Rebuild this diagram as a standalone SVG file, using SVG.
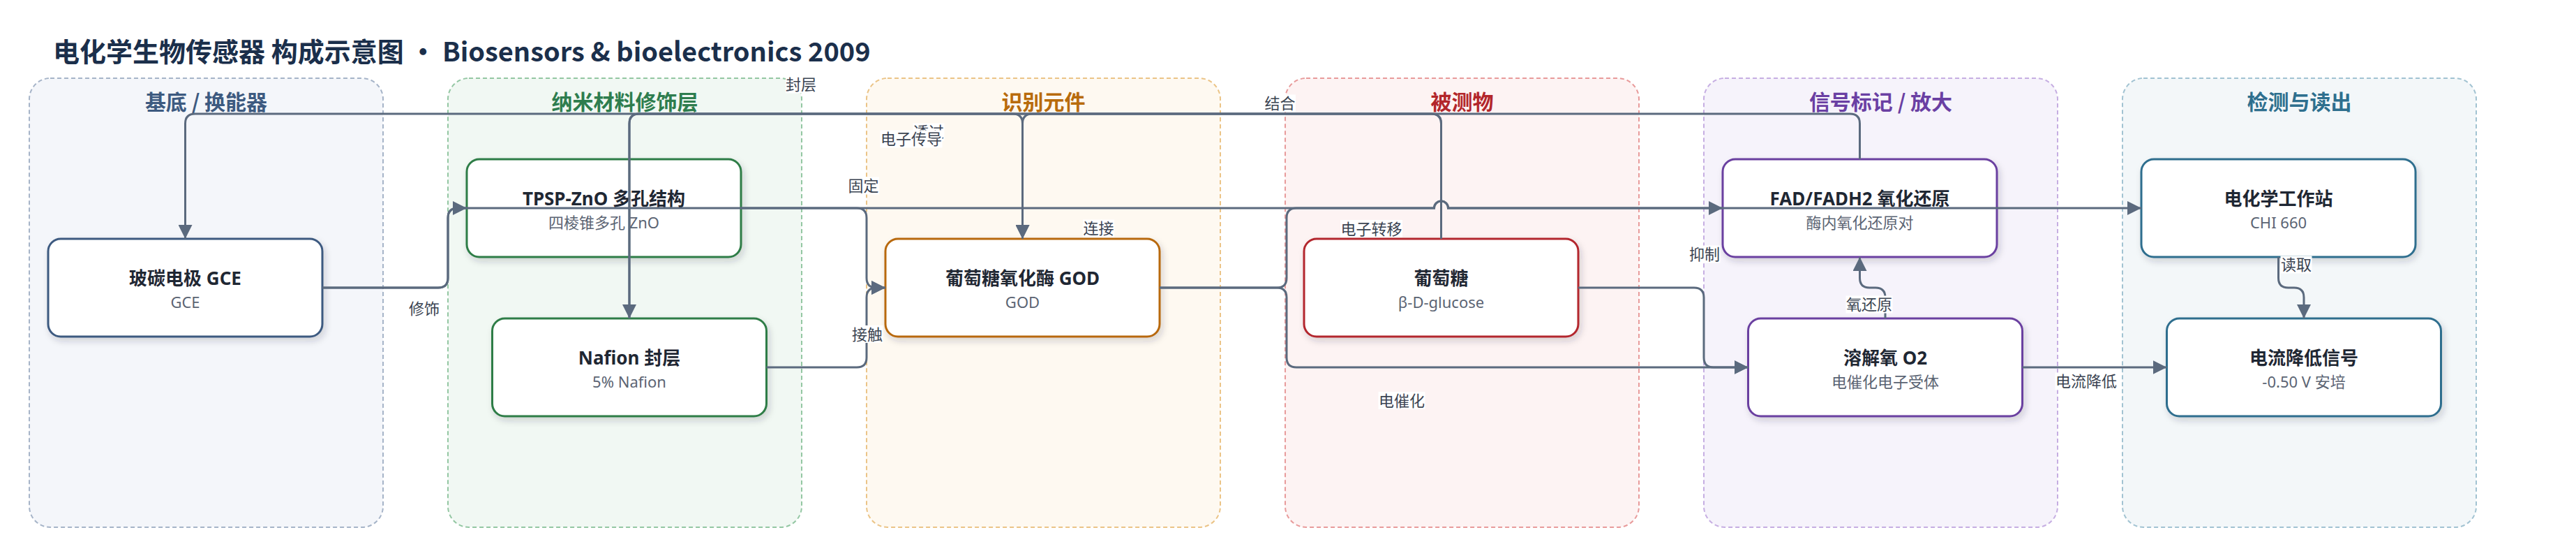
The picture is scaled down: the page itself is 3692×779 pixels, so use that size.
<svg xmlns="http://www.w3.org/2000/svg" width="3692" height="779" viewBox="0 0 3692 779">
<defs>
<filter id="sh" x="-10%" y="-20%" width="130%" height="160%">
<feDropShadow dx="3" dy="5" stdDeviation="5" flood-color="#1e293b" flood-opacity="0.18"/>
</filter>
<marker id="ah" markerUnits="userSpaceOnUse" markerWidth="20" markerHeight="20" refX="20" refY="10" orient="auto">
<path d="M0,0 L20,10 L0,20 z" fill="#5b6a7e"/>
</marker>
<style>
.title{font-family:'Noto Sans CJK SC','Noto Sans',sans-serif;font-size:38px;font-weight:700;fill:#1b2f4b}
.clb{stroke-width:2;stroke-dasharray:6 4}
.clt{font-family:'Noto Sans CJK SC','Noto Sans',sans-serif;font-size:30px;font-weight:700;text-anchor:middle}
.nb{fill:#fff;stroke-width:3;filter:url(#sh)}
.nt{font-family:'Noto Sans','Noto Sans CJK SC',sans-serif;font-size:26px;font-weight:700;fill:#1f2733;text-anchor:middle}
.ns{font-family:'Noto Sans','Noto Sans CJK SC',sans-serif;font-size:22px;fill:#5b6473;text-anchor:middle}
.e{fill:none;stroke:#5b6a7e;stroke-width:3;marker-end:url(#ah)}
.lb{fill:#fff}
.lt{font-family:'Noto Sans CJK SC','Noto Sans',sans-serif;font-size:22px;fill:#3b4452;text-anchor:middle}
</style>
</defs>
<rect width="3692" height="779" fill="#ffffff"/>
<text class="title" x="76" y="88">电化学生物传感器 构成示意图 · Biosensors &amp; bioelectronics 2009</text>

<g id="clusters">
<g id="cluster-substrate"><rect class="clb" x="42" y="112" width="507" height="643" rx="30" fill="#f4f6fa" stroke="#a6b4c8"/><text class="clt" x="295.5" y="157" fill="#3d5a80">基底 / 换能器</text></g>
<g id="cluster-nano"><rect class="clb" x="642" y="112" width="507" height="643" rx="30" fill="#f1f8f3" stroke="#94c7a3"/><text class="clt" x="895.5" y="157" fill="#2e7d4e">纳米材料修饰层</text></g>
<g id="cluster-recog"><rect class="clb" x="1242" y="112" width="507" height="643" rx="30" fill="#fef9f1" stroke="#ebc487"/><text class="clt" x="1495.5" y="157" fill="#b86b0c">识别元件</text></g>
<g id="cluster-analyte"><rect class="clb" x="1842" y="112" width="507" height="643" rx="30" fill="#fdf3f3" stroke="#e89b9b"/><text class="clt" x="2095.5" y="157" fill="#b3262b">被测物</text></g>
<g id="cluster-signal"><rect class="clb" x="2442" y="112" width="507" height="643" rx="30" fill="#f6f3fb" stroke="#c6aee2"/><text class="clt" x="2695.5" y="157" fill="#6a3fa3">信号标记 / 放大</text></g>
<g id="cluster-detect"><rect class="clb" x="3042" y="112" width="507" height="643" rx="30" fill="#f3f7f9" stroke="#a2c3d2"/><text class="clt" x="3295.5" y="157" fill="#2e6f8e">检测与读出</text></g>
</g>

<g id="n-gce"><rect class="nb" x="69" y="342" width="393" height="140" rx="18" stroke="#3d5a80"/><text class="nt" x="265.5" y="408">玻碳电极 GCE</text><text class="ns" x="265.5" y="440.5">GCE</text></g>
<g id="n-tpsp"><rect class="nb" x="669" y="228" width="393" height="140" rx="18" stroke="#2e7d46"/><text class="nt" x="865.5" y="294">TPSP-ZnO 多孔结构</text><text class="ns" x="865.5" y="326.5">四棱锥多孔 ZnO</text></g>
<g id="n-nafion"><rect class="nb" x="705.5" y="456" width="393" height="140" rx="18" stroke="#2e7d46"/><text class="nt" x="902" y="522">Nafion 封层</text><text class="ns" x="902" y="554.5">5% Nafion</text></g>
<g id="n-god"><rect class="nb" x="1269" y="342" width="393" height="140" rx="18" stroke="#b8690f"/><text class="nt" x="1465.5" y="408">葡萄糖氧化酶 GOD</text><text class="ns" x="1465.5" y="440.5">GOD</text></g>
<g id="n-glucose"><rect class="nb" x="1869" y="342" width="393" height="140" rx="18" stroke="#b3282d"/><text class="nt" x="2065.5" y="408">葡萄糖</text><text class="ns" x="2065.5" y="440.5">β-D-glucose</text></g>
<g id="n-fad"><rect class="nb" x="2469" y="228" width="393" height="140" rx="18" stroke="#6b3fa0"/><text class="nt" x="2665.5" y="294">FAD/FADH2 氧化还原</text><text class="ns" x="2665.5" y="326.5">酶内氧化还原对</text></g>
<g id="n-o2"><rect class="nb" x="2505.5" y="456" width="393" height="140" rx="18" stroke="#6b3fa0"/><text class="nt" x="2702" y="522">溶解氧 O2</text><text class="ns" x="2702" y="554.5">电催化电子受体</text></g>
<g id="n-chi"><rect class="nb" x="3069" y="228" width="393" height="140" rx="18" stroke="#2e6e8e"/><text class="nt" x="3265.5" y="294">电化学工作站</text><text class="ns" x="3265.5" y="326.5">CHI 660</text></g>
<g id="n-current"><rect class="nb" x="3105.5" y="456" width="393" height="140" rx="18" stroke="#2e6e8e"/><text class="nt" x="3302" y="522">电流降低信号</text><text class="ns" x="3302" y="554.5">-0.50 V 安培</text></g>

<g id="connectors">
<g id="edge-paths">
<path class="e" d="M462,412 H628 Q642,412 642,398 V312 Q642,298 656,298 H669"/>
<path class="e" d="M462,412 H628 Q642,412 642,398 V312 Q642,298 656,298 H2055.5 A10,10 0 0 1 2075.5,298 H3069"/>
<path class="e" d="M1062,298 H1228 Q1242,298 1242,312 V398 Q1242,412 1256,412 H1269"/>
<path class="e" d="M1098.5,526 H1228 Q1242,526 1242,512 V426 Q1242,412 1256,412 H1269"/>
<path class="e" d="M902,456 V177 Q902,163 916,163 H1451.5 Q1465.5,163 1465.5,177 V342"/>
<path class="e" d="M2065.5,342 V177 Q2065.5,163 2051.5,163 H916 Q902,163 902,177 V456"/>
<path class="e" d="M2065.5,342 V177 Q2065.5,163 2051.5,163 H1479.5 Q1465.5,163 1465.5,177 V342"/>
<path class="e" d="M2665.5,228 V177 Q2665.5,163 2651.5,163 H279.5 Q265.5,163 265.5,177 V342"/>
<path class="e" d="M1662,412 H1830 Q1844,412 1844,398 V312 Q1844,298 1858,298 H2055.5 A10,10 0 0 1 2075.5,298 H2469"/>
<path class="e" d="M1662,412 H1830 Q1844,412 1844,426 V512 Q1844,526 1858,526 H2505.5"/>
<path class="e" d="M2262,412 H2428 Q2442,412 2442,426 V512 Q2442,526 2456,526 H2505.5"/>
<path class="e" d="M2702,456 V426 Q2702,412 2688,412 H2679.5 Q2665.5,412 2665.5,398 V368"/>
<path class="e" d="M2898.5,526 H3105.5"/>
<path class="e" d="M3265.5,368 V398 Q3265.5,412 3279.5,412 H3288 Q3302,412 3302,426 V456"/>
</g>
<g id="edge-labels">
<rect class="lb" x="586" y="429.5" width="45" height="25"/><text class="lt" x="608" y="450">修饰</text>
<rect class="lb" x="1126" y="108.5" width="45" height="25"/><text class="lt" x="1148" y="129">封层</text>
<rect class="lb" x="1308.5" y="176.5" width="45" height="25"/><text class="lt" x="1331" y="197">透过</text>
<rect class="lb" x="1261.5" y="186.5" width="89" height="25"/><text class="lt" x="1306" y="207">电子传导</text>
<rect class="lb" x="1215" y="253.5" width="45" height="25"/><text class="lt" x="1237.5" y="274">固定</text>
<rect class="lb" x="1552" y="314.5" width="45" height="25"/><text class="lt" x="1574.5" y="335">连接</text>
<rect class="lb" x="1220.5" y="466" width="45" height="25"/><text class="lt" x="1243" y="486.5">接触</text>
<rect class="lb" x="1812" y="135.5" width="45" height="25"/><text class="lt" x="1834.5" y="156">结合</text>
<rect class="lb" x="1921" y="315" width="89" height="25"/><text class="lt" x="1965.5" y="335.5">电子转移</text>
<rect class="lb" x="1975.5" y="561" width="67" height="25"/><text class="lt" x="2009" y="581.5">电催化</text>
<rect class="lb" x="2420.5" y="351.5" width="45" height="25"/><text class="lt" x="2443" y="372">抑制</text>
<rect class="lb" x="2645.5" y="423.5" width="67" height="25"/><text class="lt" x="2679" y="444">氧还原</text>
<rect class="lb" x="2945.5" y="533.5" width="89" height="25"/><text class="lt" x="2990" y="554">电流降低</text>
<rect class="lb" x="3268.5" y="366.5" width="45" height="25"/><text class="lt" x="3291" y="387">读取</text>
</g>
</g>
</svg>
